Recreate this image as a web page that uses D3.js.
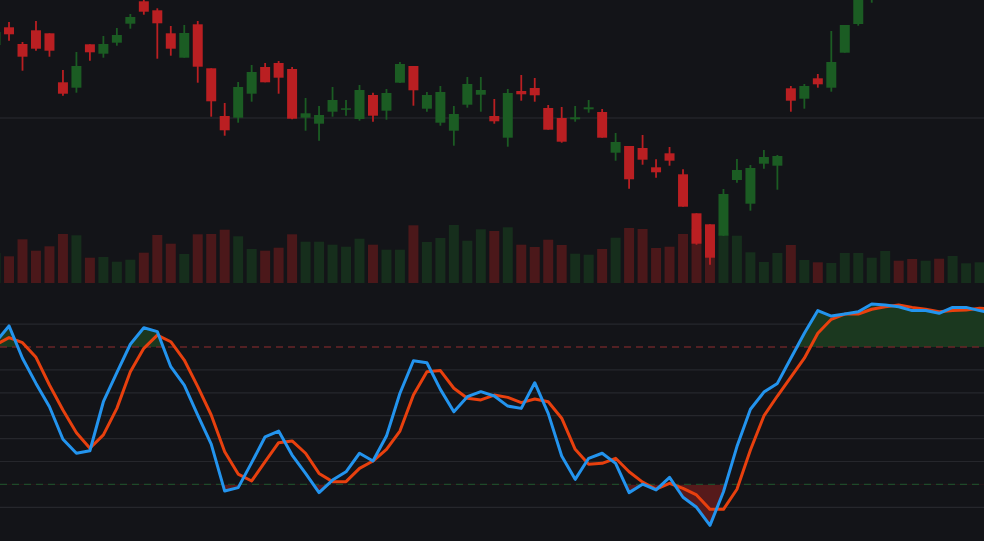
<!DOCTYPE html>
<html><head><meta charset="utf-8">
<script src="https://cdn.jsdelivr.net/npm/d3@7"></script>
<style>html,body{margin:0;padding:0;background:#131418;overflow:hidden}svg{display:block}</style>
</head><body><svg id="c" width="984" height="541"></svg>
<script>
// ---- data (bar index -1 .. 73) ----
const bars = d3.range(-1, 74);
const open  = [57.30,59.07,57.40,58.77,58.47,53.57,53.03,57.37,56.43,57.53,59.43,61.67,60.77,58.47,56.03,59.37,54.97,50.20,50.03,52.43,55.10,55.50,54.90,50.03,49.43,50.63,50.83,49.90,52.30,50.73,53.53,55.20,50.93,49.53,48.73,51.33,52.33,50.20,48.03,52.70,53.00,51.00,50.00,49.87,50.87,50.60,46.53,47.20,47.00,45.07,46.47,44.37,40.47,39.37,38.23,43.80,41.43,45.43,45.23,52.97,51.93,53.97,53.03,56.53,59.40,62.10,64.00,66.20,65.60,64.80,66.10,65.40,66.60,67.00,67.40];
const high  = [59.00,59.60,57.60,59.70,58.47,54.80,56.60,57.37,58.20,59.00,60.40,61.90,60.97,59.20,59.30,59.70,54.97,51.50,53.60,55.30,55.50,55.70,55.10,52.00,51.20,53.10,51.80,53.30,52.53,52.90,55.60,55.20,52.60,53.20,51.20,54.10,54.10,51.90,52.90,54.30,54.00,51.30,51.10,51.20,51.80,50.90,48.50,47.20,48.30,45.87,47.10,44.87,40.47,39.37,42.90,45.90,45.30,46.80,46.30,53.20,53.40,54.40,58.70,59.30,63.00,64.60,66.10,66.80,66.00,66.30,66.60,66.90,67.40,67.80,68.00];
const low   = [56.80,57.73,54.73,56.73,56.13,52.23,52.53,55.73,56.03,57.23,58.93,60.33,55.93,56.23,56.03,53.53,50.13,48.23,49.53,51.63,53.57,52.43,49.87,48.73,47.73,50.13,50.23,49.73,49.63,49.83,53.50,51.23,50.63,49.23,47.23,51.03,50.63,49.43,47.13,51.73,51.63,48.83,47.53,49.63,50.53,48.03,45.73,42.93,45.33,44.03,45.23,41.13,37.33,35.33,38.20,43.53,40.73,44.93,42.83,50.63,50.93,53.03,52.63,56.53,59.23,61.53,63.70,65.10,64.60,64.50,65.20,65.20,66.30,66.60,66.90];
const close = [58.60,58.37,56.13,56.93,56.73,52.43,55.20,56.57,57.40,58.30,60.10,60.63,59.47,56.93,58.50,55.13,51.67,48.77,53.10,54.60,53.57,54.03,49.93,50.47,50.30,51.80,50.97,52.80,50.23,52.50,55.40,52.77,52.30,52.60,50.40,53.40,52.80,49.67,52.50,52.37,52.27,48.83,47.63,50.07,51.07,48.03,47.60,43.87,45.83,44.57,45.73,41.13,37.43,36.03,42.40,44.80,45.00,46.10,46.20,51.73,53.20,53.37,55.60,59.30,62.60,64.20,65.80,65.40,64.90,66.00,65.50,66.70,67.10,67.50,67.20];
const volume = [30,26.7,43.7,32.3,36.7,49,47.7,25.3,26,21.3,23.3,30.3,48,39.3,29,48.7,49,53.3,46.7,34,32.3,35.3,48.7,41.3,41.3,38.3,36.3,44.3,38.3,33.3,33.3,57.7,41,45,58,42.3,53.7,52,55.7,38.3,36,43.3,38,29.3,28.3,34,45.3,55,54,35,36.3,49,54,47,50,47.3,30.7,21,30,38,23,20.7,20,30,30,25.3,32,22.3,24,22.3,24.3,27,19.7,20.7,22];
const stochK = [82,89.2,75.1,64.1,53.9,39.7,33.6,34.7,56.1,68.8,81.2,88.4,86.7,71.4,63.4,50.3,37.6,17.1,18.6,29.5,40.8,43.3,32.8,24.8,16.4,21.9,25.5,33.6,30.2,41.1,59.8,74.0,73.1,61.5,51.7,58.3,60.5,58.6,54.2,53.2,64.4,51.0,32.4,22.2,31.4,33.6,29.2,16.4,20.1,17.6,23.1,14.4,10.0,2.1,16.8,36.5,52.8,60.3,64.1,75.1,86.0,95.9,93.5,94.4,95.4,98.8,98.3,97.6,95.9,95.9,94.7,97.3,97.3,95.9,94.8];
const stochD = [80.9,84.1,81.9,75.5,63.4,52.5,42.6,35.8,41.6,53.2,69.2,79.4,85.2,82.3,74.3,62.7,50.3,34.3,24.5,21.5,29.9,38.2,39.0,33.6,24.8,21.2,21.2,27.0,30.2,35.3,43.3,59.0,69.2,69.7,62.0,57.6,56.9,59.0,58.0,55.7,57.3,56.1,48.9,35.3,28.8,29.2,31.4,25.5,21.0,17.9,20.5,18.3,15.4,9.1,9.1,17.9,35.0,49.9,58.6,66.8,75.1,86.0,92.1,94.4,94.4,96.5,97.6,98.3,97.3,96.5,95.4,95.9,96.2,96.9,96.6];
const priceGrid = [50];
const oscGrid = [10, 30, 40, 50, 60, 70, 90];
const overbought = 80, oversold = 20;

// ---- scales ----
const W = 984, H = 541;
const svg = d3.select('#c');
svg.append('rect').attr('width', W).attr('height', H).attr('fill', '#131418');

const x = d3.scaleBand().domain(bars).range([-11.2, 999.8]).padding(0);
const cx = i => x(i) + x.bandwidth() / 2;
const bodyW = x.bandwidth() * 0.74;

const yP = d3.scaleLinear().domain([37.8, 61.8]).range([240, 0]);
const yV = d3.scaleLinear().domain([0, 100]).range([283, 183]);
const yO = d3.scaleLinear().domain([0, 100]).range([530.2, 301.2]);

const rows = bars.map((b, k) => ({b, o: open[k], h: high[k], l: low[k], c: close[k], v: volume[k], K: stochK[k], D: stochD[k]}));
const up = d => d.c >= d.o;
const colUp = '#1b5c23', colDn = '#ba1f22';
const volUp = '#162e1c', volDn = '#4b181a';

// price grid
svg.append('g').selectAll('line').data(priceGrid).join('line')
  .attr('x1', 0).attr('x2', W).attr('y1', d => yP(d)).attr('y2', d => yP(d))
  .attr('stroke', '#2a2b30').attr('stroke-width', 1.2);

// volume
svg.append('g').selectAll('rect').data(rows).join('rect')
  .attr('x', d => cx(d.b) - bodyW / 2).attr('width', bodyW)
  .attr('y', d => yV(d.v)).attr('height', d => yV(0) - yV(d.v))
  .attr('fill', d => up(d) ? volUp : volDn);

// candles
const cg = svg.append('g');
cg.selectAll('line').data(rows).join('line')
  .attr('x1', d => cx(d.b)).attr('x2', d => cx(d.b))
  .attr('y1', d => yP(d.h)).attr('y2', d => yP(d.l))
  .attr('stroke', d => up(d) ? colUp : colDn).attr('stroke-width', 1.8);
cg.selectAll('rect').data(rows).join('rect')
  .attr('x', d => cx(d.b) - bodyW / 2).attr('width', bodyW)
  .attr('y', d => yP(Math.max(d.o, d.c)))
  .attr('height', d => Math.max(1.5, Math.abs(yP(d.o) - yP(d.c))))
  .attr('fill', d => up(d) ? colUp : colDn);

// oscillator grid
svg.append('g').selectAll('line').data(oscGrid).join('line')
  .attr('x1', 0).attr('x2', W).attr('y1', d => yO(d)).attr('y2', d => yO(d))
  .attr('stroke', '#26272c').attr('stroke-width', 1.2);

// fills
const defs = svg.append('defs');
defs.append('clipPath').attr('id', 'clipOB').append('rect')
  .attr('x', 0).attr('y', 0).attr('width', W).attr('height', yO(overbought));
defs.append('clipPath').attr('id', 'clipOS').append('rect')
  .attr('x', 0).attr('y', yO(oversold)).attr('width', W).attr('height', H - yO(oversold));
const areaOB = d3.area().x(d => cx(d.b)).y0(yO(overbought)).y1(d => yO(d.K));
const areaOS = d3.area().x(d => cx(d.b)).y0(yO(oversold)).y1(d => yO(d.K));
svg.append('path').datum(rows).attr('d', areaOB).attr('fill', '#1b381f').attr('clip-path', 'url(#clipOB)');
svg.append('path').datum(rows).attr('d', areaOS).attr('fill', '#561a1b').attr('clip-path', 'url(#clipOS)');

// thresholds
svg.append('line').attr('x1', 0).attr('x2', W).attr('y1', yO(overbought)).attr('y2', yO(overbought))
  .attr('stroke', '#6a2427').attr('stroke-width', 1.3).attr('stroke-dasharray', '7,5');
svg.append('line').attr('x1', 0).attr('x2', W).attr('y1', yO(oversold)).attr('y2', yO(oversold))
  .attr('stroke', '#1f4a29').attr('stroke-width', 1.3).attr('stroke-dasharray', '7,5');

// lines
const lineD = d3.line().x(d => cx(d.b)).y(d => yO(d.D));
const lineK = d3.line().x(d => cx(d.b)).y(d => yO(d.K));
svg.append('path').datum(rows).attr('d', lineD).attr('fill', 'none')
  .attr('stroke', '#e8400e').attr('stroke-width', 3).attr('stroke-linejoin', 'round');
svg.append('path').datum(rows).attr('d', lineK).attr('fill', 'none')
  .attr('stroke', '#2394ee').attr('stroke-width', 3).attr('stroke-linejoin', 'round');
</script></body></html>
